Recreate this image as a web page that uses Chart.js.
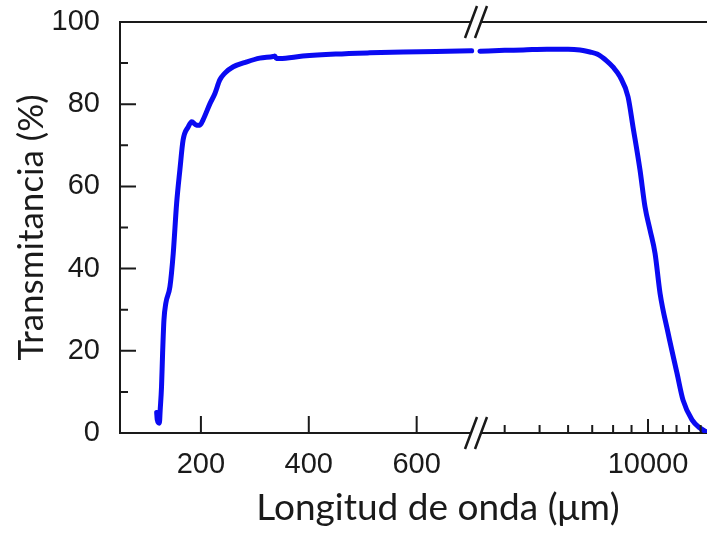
<!DOCTYPE html>
<html>
<head>
<meta charset="utf-8">
<script src="https://cdn.jsdelivr.net/npm/chart.js@4"></script>
<style>
  html, body { margin: 0; padding: 0; background: #fff; overflow: hidden; }
  #wrap { width: 707px; height: 533px; }
</style>
</head>
<body>
<div id="wrap"><canvas id="chart" width="707" height="533"></canvas></div>
<script>
// left part of the broken axis (linear)
const leftWave = [118, 119, 123, 124.5, 127, 129, 131.5, 135, 142.6, 148.7, 155, 161, 167, 176.5, 183, 192, 198, 204, 217, 226, 235, 244, 260, 285, 309, 334, 337, 340, 346, 389, 450, 513, 575, 636, 702];
const leftTrans = [5, 3.3, 2.4, 5.6, 11.3, 19.5, 27.5, 31.6, 35.6, 43.7, 55.9, 64, 71.3, 74.5, 75.7, 74.9, 74.9, 76.2, 80.2, 82.6, 85.9, 87.5, 89.1, 90.3, 91.2, 91.6, 91.7, 91.1, 91.1, 91.7, 92.2, 92.5, 92.7, 92.8, 93.0];

// right part of the broken axis (log)
const rightWave = [3415, 4000, 4500, 5240, 6000, 6475, 6900, 7220, 7690, 8000, 8360, 8800, 9085, 9500, 9810, 10130, 10460, 10800, 11370, 12040, 12510, 13250, 13940, 14540];
const rightTrans = [92.9, 93.1, 93.2, 93.4, 93.4, 93.2, 92.7, 92.2, 90.5, 89.0, 86.7, 81.8, 74.5, 64, 55, 49.4, 43.7, 34, 24.3, 14.5, 8, 3.2, 1.2, 0.3];

const yTicks = [0, 20, 40, 60, 80, 100];
const yMinorTicks = [10, 30, 50, 70, 90];
const leftTicks = [200, 400, 600];
const rightTicks = [4000, 5000, 6000, 7000, 8000, 9000, 10000, 11000, 12000, 13000, 14000];
const rightLabels = [10000];

const ink = "#1a1a1a";
const blue = "#0a0af2";
const tickFont = { family: "'Liberation Sans', Arial, sans-serif", size: 29 };
const titleFamily = "Lato, 'Open Sans', sans-serif";

const toPoints = (xs, ys) => xs.map((x, i) => ({ x: x, y: ys[i] }));

// keep label overhang from pushing the plot area in
const noPad = (s) => {
    s.paddingLeft = 0;
    s.paddingRight = 0;
    s.paddingTop = 0;
    s.paddingBottom = 0;
};

// inward tick marks, top frame, axis breaks and x title
const axisExtras = {
    id: "axisExtras",
    afterDraw(chart) {
        const { ctx, chartArea } = chart;
        const { x, x2, y } = chart.scales;
        const left = chartArea.left, right = chartArea.right;
        const top = chartArea.top, bottom = chartArea.bottom;

        ctx.save();
        ctx.strokeStyle = ink;
        ctx.lineWidth = 2;
        ctx.beginPath();
        // top frame
        ctx.moveTo(left, top);
        ctx.lineTo(right, top);
        // y ticks
        yTicks.forEach((v) => {
            const py = y.getPixelForValue(v);
            ctx.moveTo(left, py);
            ctx.lineTo(left + 16, py);
        });
        yMinorTicks.forEach((v) => {
            const py = y.getPixelForValue(v);
            ctx.moveTo(left, py);
            ctx.lineTo(left + 8, py);
        });
        // x ticks
        leftTicks.forEach((v) => {
            const px = x.getPixelForValue(v);
            ctx.moveTo(px, bottom);
            ctx.lineTo(px, bottom - 17);
        });
        rightTicks.forEach((v) => {
            const px = x2.getPixelForValue(v);
            ctx.moveTo(px, bottom);
            ctx.lineTo(px, bottom - (rightLabels.includes(v) ? 14 : 8));
        });
        ctx.stroke();

        // breaks
        const cx = x.right;
        [top, bottom].forEach((ay) => {
            ctx.fillStyle = "#fff";
            ctx.fillRect(cx - 4, ay - 3, 8, 6);
            ctx.lineWidth = 2.5;
            ctx.beginPath();
            ctx.moveTo(cx - 11, ay + 16);
            ctx.lineTo(cx + 1, ay - 16);
            ctx.moveTo(cx - 1, ay + 16);
            ctx.lineTo(cx + 11, ay - 16);
            ctx.stroke();
        });

        // x title
        ctx.fillStyle = ink;
        ctx.font = "37px " + titleFamily;
        ctx.textAlign = "center";
        ctx.textBaseline = "alphabetic";
        ctx.fillText("Longitud de onda (\u03bcm)", 438, 520);
        ctx.restore();
    },
};

new Chart(document.getElementById("chart"), {
    type: "line",
    data: {
        datasets: [
            {
                data: toPoints(leftWave, leftTrans),
                xAxisID: "x",
                yAxisID: "y",
                borderColor: blue,
                borderWidth: 5,
                pointRadius: 0,
                cubicInterpolationMode: "monotone",
                borderCapStyle: "round",
                borderJoinStyle: "round",
            },
            {
                data: toPoints(rightWave, rightTrans),
                xAxisID: "x2",
                yAxisID: "y",
                borderColor: blue,
                borderWidth: 5,
                pointRadius: 0,
                cubicInterpolationMode: "monotone",
                borderCapStyle: "round",
                borderJoinStyle: "round",
            },
        ],
    },
    options: {
        responsive: false,
        animation: false,
        layout: { padding: { top: 22, left: 0, right: 0, bottom: 0 } },
        plugins: {
            legend: { display: false },
            tooltip: { enabled: false },
        },
        scales: {
            x: {
                type: "linear",
                position: "bottom",
                stack: "wave",
                stackWeight: 356,
                min: 50,
                max: 710,
                afterBuildTicks: (s) => { s.ticks = leftTicks.map((v) => ({ value: v })); },
                afterFit: (s) => { s.height = 100; noPad(s); },
                grid: { display: false, drawTicks: false },
                border: { display: true, color: ink, width: 2 },
                ticks: { color: ink, font: tickFont, padding: 15, maxRotation: 0, autoSkip: false },
            },
            x2: {
                type: "logarithmic",
                position: "bottom",
                stack: "wave",
                stackWeight: 231,
                min: 3330,
                max: 14580,
                afterBuildTicks: (s) => { s.ticks = rightTicks.map((v) => ({ value: v })); },
                afterFit: (s) => { s.height = 100; noPad(s); },
                grid: { display: false, drawTicks: false },
                border: { display: true, color: ink, width: 2 },
                ticks: {
                    color: ink,
                    font: tickFont,
                    padding: 15,
                    maxRotation: 0,
                    autoSkip: false,
                    callback: (v) => (rightLabels.includes(v) ? String(v) : ""),
                },
            },
            y: {
                min: 0,
                max: 100,
                afterBuildTicks: (s) => { s.ticks = yTicks.map((v) => ({ value: v })); },
                afterFit: (s) => { s.width = 120; noPad(s); },
                grid: { display: false, drawTicks: false },
                border: { display: true, color: ink, width: 2 },
                ticks: { color: ink, font: tickFont, padding: 20 },
                title: {
                    display: true,
                    text: "Transmitancia (%)",
                    color: ink,
                    font: { family: titleFamily, size: 35 },
                    padding: { top: 11, bottom: 0 },
                },
            },
        },
    },
    plugins: [axisExtras],
});
</script>
</body>
</html>
